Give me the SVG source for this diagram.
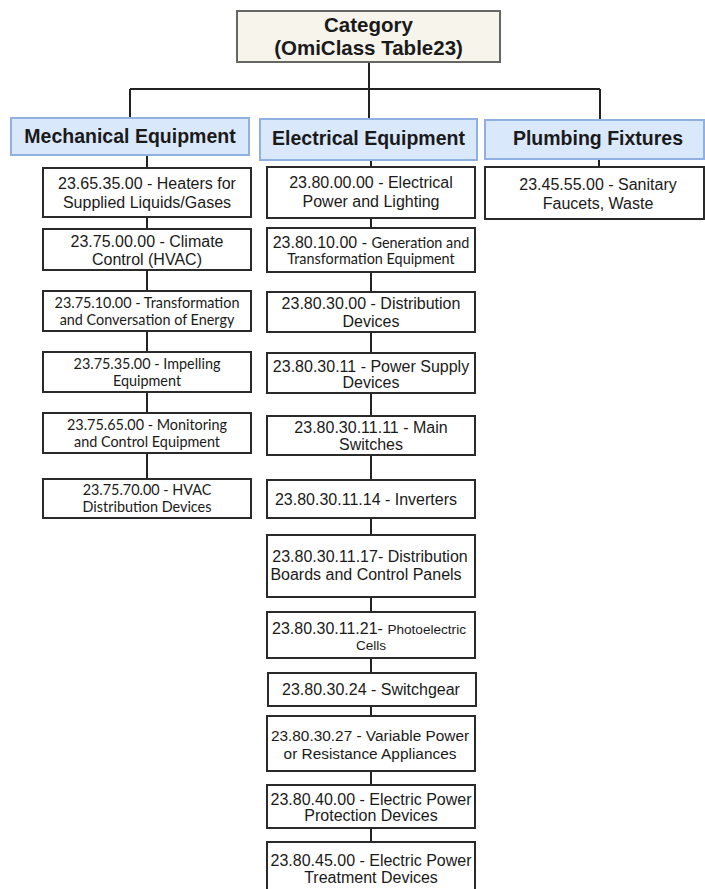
<svg xmlns="http://www.w3.org/2000/svg" width="705" height="889" viewBox="0 0 705 889">
  <style>
    .root rect { fill: #f7f4ec; stroke: #666; stroke-width: 2; }
    .hdr rect { fill: #dae8fc; stroke: #8fb0e0; stroke-width: 2; }
    .item rect { fill: #fff; stroke: #2a2a2a; stroke-width: 2; }
    text { font-family: "Liberation Sans", Arial, sans-serif; fill: #1a1a1a; text-anchor: middle; }
    .t-root { font-size: 20.5px; font-weight: bold; }
    .t-hdr { font-size: 19.5px; font-weight: bold; }
    .t-item { font-size: 16px; }
    .cal { font-family: Lato, "Open Sans", sans-serif; font-size: 14.4px; }
    .sm { font-size: 13.6px; }
    .connectors path { fill: none; stroke: #222; stroke-width: 2; }
  </style>

  <!-- connectors -->
  <g class="connectors">
    <path d="M369 62 V119"/>
    <path d="M130 89 H600"/>
    <path d="M130 89 V118"/>
    <path d="M600 89 V120"/>
    <path d="M147 155 V479"/>
    <path d="M371 161 V842"/>
    <path d="M599 159 V167"/>
  </g>

  <!-- root -->
  <g id="category" class="root">
    <rect x="237" y="11" width="263" height="51"/>
    <text class="t-root" x="368.5" y="32">Category</text>
    <text class="t-root" x="368.5" y="55">(OmiClass Table23)</text>
  </g>

  <!-- group headers -->
  <g id="mechanical" class="hdr">
    <rect x="11" y="118" width="238" height="37"/>
    <text class="t-hdr" x="130" y="143">Mechanical Equipment</text>
  </g>
  <g id="electrical" class="hdr">
    <rect x="260" y="119" width="217" height="41"/>
    <text class="t-hdr" x="368.5" y="145">Electrical Equipment</text>
  </g>
  <g id="plumbing" class="hdr">
    <rect x="485" y="120" width="219" height="39"/>
    <text class="t-hdr" x="598" y="145">Plumbing Fixtures</text>
  </g>

  <!-- mechanical items -->
  <g id="m1" class="item">
    <rect x="43" y="168" width="208" height="49"/>
    <text class="t-item" x="147" y="189">23.65.35.00 - Heaters for</text>
    <text class="t-item" x="147" y="208">Supplied Liquids/Gases</text>
  </g>
  <g id="m2" class="item">
    <rect x="43" y="229" width="208" height="41"/>
    <text class="t-item" x="147" y="247">23.75.00.00 - Climate</text>
    <text class="t-item" x="147" y="265">Control (HVAC)</text>
  </g>
  <g id="m3" class="item">
    <rect x="43" y="291" width="208" height="40"/>
    <text class="t-item cal" x="147" y="308">23.75.10.00 - Transformation</text>
    <text class="t-item cal" x="147" y="325">and Conversation of Energy</text>
  </g>
  <g id="m4" class="item">
    <rect x="43" y="352" width="208" height="40"/>
    <text class="t-item cal" x="147" y="369">23.75.35.00 - Impelling</text>
    <text class="t-item cal" x="147" y="386">Equipment</text>
  </g>
  <g id="m5" class="item">
    <rect x="43" y="413" width="208" height="40"/>
    <text class="t-item cal" x="147" y="430">23.75.65.00 - Monitoring</text>
    <text class="t-item cal" x="147" y="447">and Control Equipment</text>
  </g>
  <g id="m6" class="item">
    <rect x="43" y="479" width="208" height="39"/>
    <text class="t-item cal" x="147" y="495">23.75.70.00 - HVAC</text>
    <text class="t-item cal" x="147" y="512">Distribution Devices</text>
  </g>

  <!-- electrical items -->
  <g id="e1" class="item">
    <rect x="267" y="167" width="208" height="51"/>
    <text class="t-item" x="371" y="188">23.80.00.00 - Electrical</text>
    <text class="t-item" x="371" y="207">Power and Lighting</text>
  </g>
  <g id="e2" class="item">
    <rect x="267" y="228" width="208" height="44"/>
    <text class="t-item" x="371" y="248">23.80.10.00 - <tspan class="cal">Generation and</tspan></text>
    <text class="t-item cal" x="371" y="264">Transformation Equipment</text>
  </g>
  <g id="e3" class="item">
    <rect x="267" y="292" width="208" height="40"/>
    <text class="t-item" x="371" y="309">23.80.30.00 - Distribution</text>
    <text class="t-item" x="371" y="327">Devices</text>
  </g>
  <g id="e4" class="item">
    <rect x="267" y="353" width="208" height="40"/>
    <text class="t-item" x="371" y="372">23.80.30.11 - Power Supply</text>
    <text class="t-item" x="371" y="388">Devices</text>
  </g>
  <g id="e5" class="item">
    <rect x="267" y="416" width="208" height="39"/>
    <text class="t-item" x="371" y="433">23.80.30.11.11 - Main</text>
    <text class="t-item" x="371" y="450">Switches</text>
  </g>
  <g id="e6" class="item">
    <rect x="267" y="480" width="208" height="38"/>
    <text class="t-item" x="366" y="505">23.80.30.11.14 - Inverters</text>
  </g>
  <g id="e7" class="item">
    <rect x="267" y="535" width="208" height="62"/>
    <text class="t-item" x="370" y="562">23.80.30.11.17- Distribution</text>
    <text class="t-item" x="366" y="580">Boards and Control Panels</text>
  </g>
  <g id="e8" class="item">
    <rect x="267" y="612" width="208" height="46"/>
    <text class="t-item" x="369" y="634">23.80.30.11.21- <tspan class="sm">Photoelectric</tspan></text>
    <text class="t-item sm" x="371" y="650">Cells</text>
  </g>
  <g id="e9" class="item">
    <rect x="268" y="673" width="208" height="33"/>
    <text class="t-item" x="371" y="695">23.80.30.24 - Switchgear</text>
  </g>
  <g id="e10" class="item">
    <rect x="267" y="716" width="208" height="55"/>
    <text class="t-item" x="370" y="741" style="font-size:15.4px">23.80.30.27 - Variable Power</text>
    <text class="t-item" x="370" y="759" style="font-size:15.4px">or Resistance Appliances</text>
  </g>
  <g id="e11" class="item">
    <rect x="267" y="785" width="208" height="43"/>
    <text class="t-item" x="371" y="805">23.80.40.00 - Electric Power</text>
    <text class="t-item" x="371" y="821">Protection Devices</text>
  </g>
  <g id="e12" class="item">
    <rect x="267" y="842" width="208" height="50"/>
    <text class="t-item" x="371" y="866">23.80.45.00 - Electric Power</text>
    <text class="t-item" x="371" y="883">Treatment Devices</text>
  </g>

  <!-- plumbing item -->
  <g id="p1" class="item">
    <rect x="485" y="167" width="219" height="52"/>
    <text class="t-item" x="598" y="190">23.45.55.00 - Sanitary</text>
    <text class="t-item" x="598" y="209">Faucets, Waste</text>
  </g>
</svg>
